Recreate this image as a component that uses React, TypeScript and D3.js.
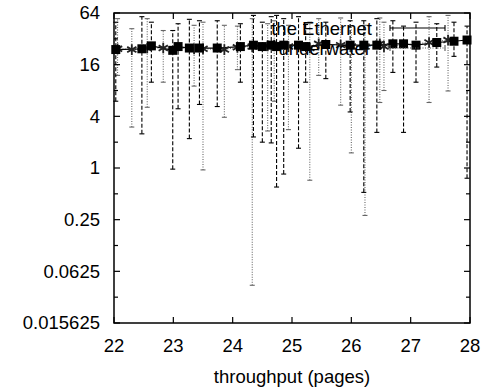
import React from 'react';
import * as d3 from 'd3';

// "the Ethernet" series (dashed error bars, squares)
const ethernetX = [22.03, 22.47, 22.63, 22.99, 23.08, 23.27, 23.44, 23.74, 24.13, 24.35, 24.5, 24.65, 24.74, 24.86, 25.11, 25.23, 25.57, 25.98, 26.21, 26.43, 26.7, 26.88, 27.09, 27.44, 27.73, 27.95];
const ethernetY = [24, 24.5, 26.5, 23.5, 26, 25, 25, 25, 26, 27, 26, 27, 26, 27, 27, 26, 27.5, 27, 27, 27, 28, 28, 27, 29, 30, 31];
const ethernetLo = [6, 2.5, 10, 0.97, 4.9, 2.2, 5.5, 5.2, 10, 2.3, 2.0, 1.96, 0.6, 0.85, 1.7, 10, 11, 4.5, 0.52, 2.6, 13, 2.6, 10, 15, 20, 0.76];
const ethernetHi = [50, 58, 50, 40, 48, 54, 52, 52, 48, 60, 50, 58, 60, 55, 58, 47, 50, 52, 52, 55, 52, 45, 50, 48, 50, 45];

// "underwater" series (dotted error bars, asterisks)
const underwaterX = [22.06, 22.3, 22.56, 22.83, 23.35, 23.5, 23.86, 24.08, 24.33, 24.59, 24.7, 24.94, 25.3, 25.45, 25.82, 26.0, 26.23, 26.48, 26.55, 27.31, 27.63];
const underwaterY = [24.5, 24, 25, 25, 24.5, 24.5, 24, 25.5, 26, 26.5, 27, 26, 25, 28, 27, 26, 26, 28, 26, 29, 31];
const underwaterLo = [12, 3.0, 5.1, 10, 9, 0.95, 3.9, 14, 0.043, 2.7, 6, 2.8, 0.72, 12, 5.4, 1.5, 0.28, 5.8, 8, 5.8, 7.9];
const underwaterHi = [55, 42, 55, 40, 46, 50, 46, 45, 55, 48, 52, 46, 50, 55, 56, 45, 46, 56, 50, 58, 60];

const xTicks = [22, 23, 24, 25, 26, 27, 28];
const yTickLabels = ['0.015625', '0.0625', '0.25', '1', '4', '16', '64'];
const yTicksAll = d3.range(-6, 7).map((p) => Math.pow(2, p));

const W = 499;
const H = 392;
const m = { left: 114, right: 470, top: 13, bottom: 323 };
const font = '"Liberation Sans", Arial, Helvetica, sans-serif';

const App = () => {
  const x = d3.scaleLinear().domain([22, 28]).range([m.left, m.right]);
  const y = d3.scaleLog().base(2).domain([0.015625, 64]).range([m.bottom, m.top]);

  const eLine = d3.line<number>().x((_, i) => x(ethernetX[i])).y((d) => y(d));
  const uLine = d3.line<number>().x((_, i) => x(underwaterX[i])).y((d) => y(d));
  const square = d3.symbol().type(d3.symbolSquare).size(81)();
  const aster = d3.symbol().type(d3.symbolAsterisk).size(80)();

  const bars = (xs: number[], lo: number[], hi: number[], stroke: string, dash: string, key: string) =>
    xs.map((v, i) => {
      const cx = x(v);
      return (
        <g key={key + i} stroke={stroke} strokeWidth={1.1} fill="none">
          <line x1={cx} x2={cx} y1={y(lo[i])} y2={y(hi[i])} strokeDasharray={dash} />
          <line x1={cx - 2.5} x2={cx + 2.5} y1={y(lo[i])} y2={y(lo[i])} />
          <line x1={cx - 2.5} x2={cx + 2.5} y1={y(hi[i])} y2={y(hi[i])} />
        </g>
      );
    });

  return (
    <svg width={W} height={H} style={{ position: 'absolute', left: 0, top: 0 }} fontFamily={font}>
      <rect width={W} height={H} fill="#fff" />
      {/* error bars */}
      {bars(underwaterX, underwaterLo, underwaterHi, '#666', '1,1.5', 'u')}
      {bars(ethernetX, ethernetLo, ethernetHi, '#000', '4,2', 'e')}
      {/* lines */}
      <path d={uLine(underwaterY) || ''} fill="none" stroke="#555" strokeDasharray="1,1.5" />
      <path d={eLine(ethernetY) || ''} fill="none" stroke="#000" strokeWidth={1.2} />
      {underwaterX.map((v, i) => (
        <path key={'um' + i} d={aster || ''} transform={`translate(${x(v)},${y(underwaterY[i])})`} stroke="#222" strokeWidth={1.8} fill="none" />
      ))}
      {ethernetX.map((v, i) => (
        <path key={'em' + i} d={square || ''} transform={`translate(${x(v)},${y(ethernetY[i])})`} fill="#000" />
      ))}

      {/* legend */}
      <g fontSize={18.5} textAnchor="end" fill="#000">
        <text x={372} y={35}>the Ethernet</text>
        <text x={371} y={55}>underwater</text>
      </g>
      <g stroke="#000" strokeWidth={1.1}>
        <line x1={390} x2={445} y1={28} y2={28} />
        <line x1={390} x2={390} y1={25} y2={31} />
        <line x1={445} x2={445} y1={25} y2={31} />
      </g>
      <g stroke="#555" strokeWidth={1.1}>
        <line x1={390} x2={445} y1={48} y2={48} strokeDasharray="1,1.5" />
        <line x1={390} x2={390} y1={45} y2={51} />
        <line x1={445} x2={445} y1={45} y2={51} />
      </g>

      {/* frame and ticks */}
      <rect x={m.left} y={m.top} width={m.right - m.left} height={m.bottom - m.top} fill="none" stroke="#000" strokeWidth={1.5} />
      {xTicks.map((t) => (
        <g key={'xt' + t} stroke="#000" strokeWidth={1.2}>
          <line x1={x(t)} x2={x(t)} y1={m.bottom} y2={m.bottom - 6} />
          <line x1={x(t)} x2={x(t)} y1={m.top} y2={m.top + 6} />
        </g>
      ))}
      {yTicksAll.map((t, i) => {
        const len = i % 2 === 0 ? 6 : 4;
        return (
          <g key={'yt' + i} stroke="#000" strokeWidth={1.2}>
            <line x1={m.left} x2={m.left + len} y1={y(t)} y2={y(t)} />
            <line x1={m.right} x2={m.right - len} y1={y(t)} y2={y(t)} />
          </g>
        );
      })}
      <g fontSize={18.5} fill="#000">
        {xTicks.map((t) => (
          <text key={'xl' + t} x={x(t)} y={352} textAnchor="middle">{t}</text>
        ))}
        {yTickLabels.map((l) => (
          <text key={'yl' + l} x={100} y={y(+l)} dy="0.35em" textAnchor="end">{l}</text>
        ))}
        <text x={(m.left + m.right) / 2} y={383} textAnchor="middle">throughput (pages)</text>
      </g>
    </svg>
  );
};

export default App;
